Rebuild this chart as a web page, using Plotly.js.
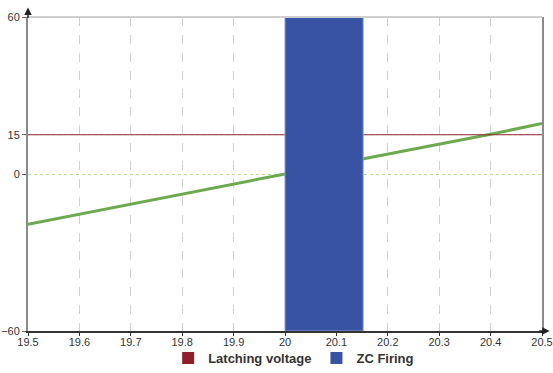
<!DOCTYPE html>
<html><head><meta charset="utf-8">
<script src="https://cdn.plot.ly/plotly-3.0.1.min.js"></script>
<style>html,body{margin:0;padding:0;background:#fff}#chart{width:553px;height:373px}</style>
</head><body><div id="chart"></div>
<script>
// Data
const timeX = [19.5, 19.6, 19.7, 19.8, 19.9, 20.0, 20.1, 20.2, 20.3, 20.4, 20.5];
const voltageY = [-19.2, -15.3, -11.5, -7.6, -3.8, 0, 3.8, 7.6, 11.4, 15.2, 19.3];
const latchingLevel = 15;
const zcStart = 20.0;
const zcEnd = 20.152;
const yMin = -60, yMax = 60;
const yTicks = [-60, 0, 15, 60];

const traces = [
  {type:'scatter', mode:'lines', x: timeX, y: voltageY, line:{color:'#6daa4f', width:3}, showlegend:false, hoverinfo:'skip'},
  {type:'scatter', mode:'lines', x:[timeX[0], timeX[timeX.length-1]], y:[latchingLevel, latchingLevel], line:{color:'#8e2a36', width:1}, showlegend:false},
  {type:'scatter', mode:'lines', x:[zcStart, zcEnd, zcEnd, zcStart, zcStart], y:[yMin, yMin, yMax, yMax, yMin],
   fill:'toself', fillcolor:'#3953a4', line:{color:'#8a9ad0', width:1}, showlegend:false},
  {type:'bar', name:'Latching voltage', x:[null], y:[null], marker:{color:'#8e1f2b'}, showlegend:true},
  {type:'bar', name:'ZC Firing', x:[null], y:[null], marker:{color:'#3953a4'}, showlegend:true}
];

const layout = {
  width:553, height:373,
  margin:{l:28, r:11, t:17, b:42},
  paper_bgcolor:'#fff', plot_bgcolor:'#fff',
  font:{family:'Liberation Sans, Arial, sans-serif', size:11, color:'#333'},
  xaxis:{range:[19.5, 20.5], dtick:0.1, tick0:19.5, showgrid:true, gridcolor:'#d0d0d0', griddash:'dash', gridwidth:1,
    showline:true, linecolor:'#333', linewidth:1.5, ticks:'outside', ticklen:3, tickcolor:'#333', ticklabelstandoff:-3,
    zeroline:false, tickfont:{size:11, color:'#333'}},
  yaxis:{range:[yMin, yMax], tickvals:yTicks, showgrid:true, gridcolor:'#b8dc9c', griddash:'dot', gridwidth:1,
    showline:true, linecolor:'#8a8a8a', linewidth:2, mirror:true, ticks:'outside', ticklen:4, tickcolor:'#666',
    zeroline:false, tickfont:{size:11, color:'#333'}},
  legend:{orientation:'h', x:0.531, xanchor:'center', xref:'container', yref:'container', y:-0.025, yanchor:'bottom',
    bgcolor:'rgba(0,0,0,0)',
    font:{size:13, color:'#333', family:'Liberation Sans, Arial, sans-serif', weight:'bold'}, traceorder:'normal'},
  shapes:[
    {type:'line', xref:'paper', yref:'paper', x0:0, x1:1, y0:1, y1:1, line:{color:'#cfcfcf', width:2}}
  ],
  annotations:[
    {xref:'paper', yref:'paper', x:0, y:1.03, ax:0, ay:12, text:'', showarrow:true, arrowhead:2, arrowsize:1, arrowwidth:1.5, arrowcolor:'#222'},
    {xref:'paper', yref:'paper', x:1.015, y:0, ax:-12, ay:0, text:'', showarrow:true, arrowhead:2, arrowsize:1, arrowwidth:1.5, arrowcolor:'#222'}
  ]
};
Plotly.newPlot('chart', traces, layout, {displayModeBar:false, staticPlot:true});
</script></body></html>
